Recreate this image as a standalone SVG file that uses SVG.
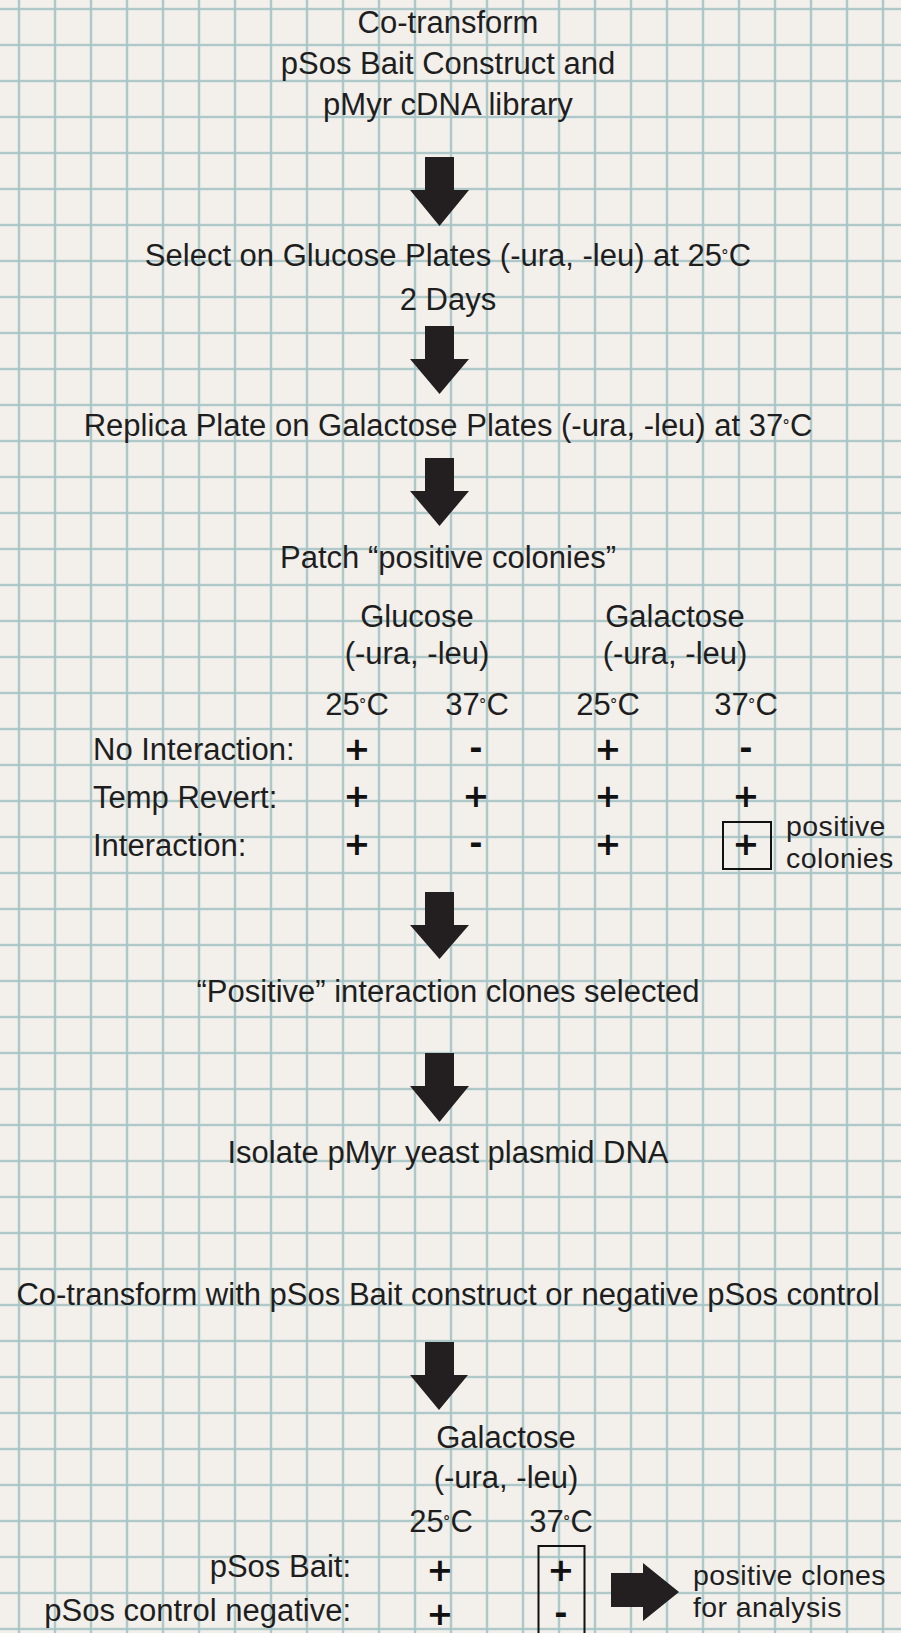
<svg xmlns="http://www.w3.org/2000/svg" width="901" height="1633" viewBox="0 0 901 1633">
  <style>
    .t { font-family: "Liberation Sans", Arial, sans-serif; font-size: 31px; fill: #1e1e1e; }
    .n { font-size: 28.5px; letter-spacing: 0.4px; }
    .c { text-anchor: middle; }
    .r { text-anchor: end; }
    .d { font-size: 20px; }
    .s { font-family: "DejaVu Sans", "Liberation Sans", sans-serif; font-weight: bold; font-size: 32px; fill: #111; text-anchor: middle; }
    .arrow { fill: #231f20; }
    .box { fill: none; stroke: #111; stroke-width: 2; }
  </style>
  <defs>
    <pattern id="grid" patternUnits="userSpaceOnUse" x="1" y="-9" width="36" height="36">
      <line x1="18" y1="0" x2="18" y2="36" stroke="#bcd2d2" stroke-width="2.6"/>
      <line x1="0" y1="18" x2="36" y2="18" stroke="#bcd2d2" stroke-width="2.6"/>
      <line x1="18" y1="0" x2="18" y2="36" stroke="#9ebdbe" stroke-width="0.9"/>
      <line x1="0" y1="18" x2="36" y2="18" stroke="#9ebdbe" stroke-width="0.9"/>
    </pattern>
  </defs>
  <rect x="0" y="0" width="901" height="1633" fill="#f3efea"/>
  <rect x="0" y="0" width="901" height="1633" fill="url(#grid)"/>

  <g id="connectors">
    <polygon class="arrow" points="425,157 454,157 454,190 469,190 439.5,226 410,190 425,190"/>
    <polygon class="arrow" points="425,326 454,326 454,359 469,359 439.5,394 410,359 425,359"/>
    <polygon class="arrow" points="425,458 454,458 454,491 469,491 439.5,526 410,491 425,491"/>
    <polygon class="arrow" points="425,892 454,892 454,925 469,925 439.5,959 410,925 425,925"/>
    <polygon class="arrow" points="425,1053 454,1053 454,1086 469,1086 439.5,1122 410,1086 425,1086"/>
    <polygon class="arrow" points="425,1342 454,1342 454,1375 468,1375 439,1410 410,1375 425,1375"/>
    <polygon class="arrow" points="611,1573 643,1573 643,1563 679,1592 643,1621 643,1607 611,1607"/>
  </g>

  <g id="step1">
    <text class="t c" x="448" y="33">Co-transform</text>
    <text class="t c" x="448" y="74">pSos Bait Construct and</text>
    <text class="t c" x="448" y="115">pMyr cDNA library</text>
  </g>

  <g id="step2">
    <text class="t c" x="448" y="266">Select on Glucose Plates (-ura, -leu) at 25<tspan class="d">˚</tspan>C</text>
    <text class="t c" x="448" y="310">2 Days</text>
  </g>

  <g id="step3">
    <text class="t c" x="448" y="436">Replica Plate on Galactose Plates (-ura, -leu) at 37<tspan class="d">˚</tspan>C</text>
  </g>

  <g id="step4">
    <text class="t c" x="448" y="568">Patch “positive colonies”</text>
    <text class="t c" x="417" y="627">Glucose</text>
    <text class="t c" x="417" y="664">(-ura, -leu)</text>
    <text class="t c" x="675" y="627">Galactose</text>
    <text class="t c" x="675" y="664">(-ura, -leu)</text>
    <text class="t c" x="357" y="715">25<tspan class="d">˚</tspan>C</text>
    <text class="t c" x="477" y="715">37<tspan class="d">˚</tspan>C</text>
    <text class="t c" x="608" y="715">25<tspan class="d">˚</tspan>C</text>
    <text class="t c" x="746" y="715">37<tspan class="d">˚</tspan>C</text>
    <text class="t" x="93" y="760">No Interaction:</text>
    <text class="t" x="93" y="808">Temp Revert:</text>
    <text class="t" x="93" y="856">Interaction:</text>
    <text class="s" x="357" y="760">+</text>
    <text class="s" x="476" y="759">-</text>
    <text class="s" x="608" y="760">+</text>
    <text class="s" x="746" y="759">-</text>
    <text class="s" x="357" y="807">+</text>
    <text class="s" x="476" y="807">+</text>
    <text class="s" x="608" y="807">+</text>
    <text class="s" x="746" y="807">+</text>
    <text class="s" x="357" y="855">+</text>
    <text class="s" x="476" y="854">-</text>
    <text class="s" x="608" y="855">+</text>
    <text class="s" x="746" y="855">+</text>
    <rect class="box" x="723" y="822" width="48" height="47"/>
    <text class="t n" x="786" y="836">positive</text>
    <text class="t n" x="786" y="868">colonies</text>
  </g>

  <g id="step5">
    <text class="t c" x="448" y="1002">“Positive” interaction clones selected</text>
  </g>

  <g id="step6">
    <text class="t c" x="448" y="1163">Isolate pMyr yeast plasmid DNA</text>
  </g>

  <g id="step7">
    <text class="t c" x="448" y="1305">Co-transform with pSos Bait construct or negative pSos control</text>
  </g>

  <g id="step8">
    <text class="t c" x="506" y="1448">Galactose</text>
    <text class="t c" x="506" y="1488">(-ura, -leu)</text>
    <text class="t c" x="441" y="1532">25<tspan class="d">˚</tspan>C</text>
    <text class="t c" x="561" y="1532">37<tspan class="d">˚</tspan>C</text>
    <text class="t r" x="351" y="1577">pSos Bait:</text>
    <text class="t r" x="351" y="1621">pSos control negative:</text>
    <text class="s" x="440" y="1581">+</text>
    <text class="s" x="440" y="1625">+</text>
    <text class="s" x="561" y="1581">+</text>
    <text class="s" x="561" y="1624">-</text>
    <polyline class="box" points="538.5,1640 538.5,1546 584.5,1546 584.5,1640"/>
  </g>

  <g id="result">
    <text class="t n" x="693" y="1585">positive clones</text>
    <text class="t n" x="693" y="1617">for analysis</text>
  </g>
</svg>
